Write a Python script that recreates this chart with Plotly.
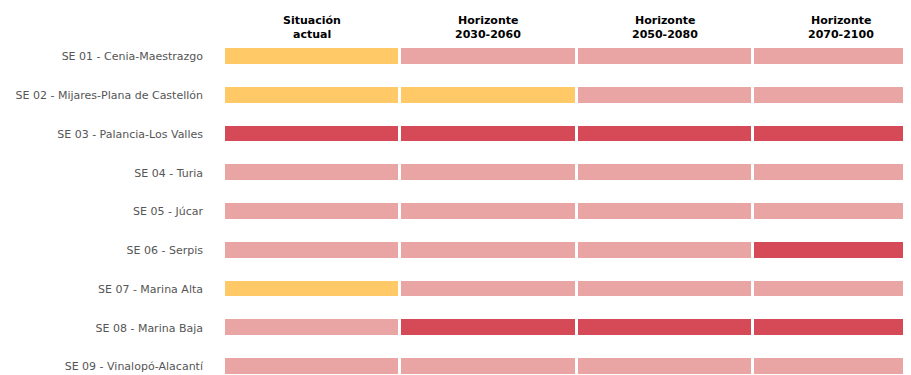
import plotly.graph_objects as go

# estado: 0 = amarillo, 1 = rosa, 2 = rojo
sistemas = [
    "SE 01 - Cenia-Maestrazgo",
    "SE 02 - Mijares-Plana de Castellón",
    "SE 03 - Palancia-Los Valles",
    "SE 04 - Turia",
    "SE 05 - Júcar",
    "SE 06 - Serpis",
    "SE 07 - Marina Alta",
    "SE 08 - Marina Baja",
    "SE 09 - Vinalopó-Alacantí",
]
cabecera_1 = ["Situación", "Horizonte", "Horizonte", "Horizonte"]
cabecera_2 = ["actual", "2030-2060", "2050-2080", "2070-2100"]
situacion_actual = [0, 0, 2, 1, 1, 1, 0, 1, 1]
h_2030_2060 = [1, 0, 2, 1, 1, 1, 1, 2, 1]
h_2050_2080 = [1, 1, 2, 1, 1, 1, 1, 2, 1]
h_2070_2100 = [1, 1, 2, 1, 1, 2, 1, 2, 1]

z = [list(r) for r in zip(situacion_actual, h_2030_2060, h_2050_2080, h_2070_2100)]
cols = list(range(len(cabecera_1)))

colorscale = [
    [0.0, "#FEC966"], [0.333, "#FEC966"],
    [0.333, "#E9A4A4"], [0.667, "#E9A4A4"],
    [0.667, "#D64A57"], [1.0, "#D64A57"],
]

fig = go.Figure(go.Heatmap(
    z=z,
    x=cols,
    y=list(range(len(sistemas))),
    zmin=0, zmax=2,
    colorscale=colorscale,
    showscale=False,
    xgap=3, ygap=23,
    hoverinfo="skip",
))

# cabeceras de columna en dos líneas
for i in cols:
    for texto, dy in ((cabecera_1[i], 17), (cabecera_2[i], 3)):
        fig.add_annotation(
            x=i, y=1, xref="x", yref="paper",
            text=f"<b>{texto}</b>", showarrow=False,
            xanchor="center", yanchor="middle", yshift=dy,
            font={"size": 11, "color": "#000000"},
        )

# la página añade 8 px de margen en el body
fig.update_layout(
    width=903, height=367,
    margin={"l": 216, "r": 0, "t": 29, "b": 0},
    plot_bgcolor="white",
    paper_bgcolor="white",
    font={"family": "DejaVu Sans", "color": "#555555", "size": 11},
    xaxis={
        "range": [-0.5, 3.397],
        "showticklabels": False,
        "showgrid": False, "zeroline": False, "ticks": "",
        "automargin": False,
    },
    yaxis={
        "range": [8.22, -0.5],
        "tickvals": list(range(len(sistemas))),
        "ticktext": sistemas,
        "showgrid": False, "zeroline": False, "ticks": "",
        "ticklabelstandoff": 20,
        "automargin": False,
    },
)

fig.write_html("out.html")
